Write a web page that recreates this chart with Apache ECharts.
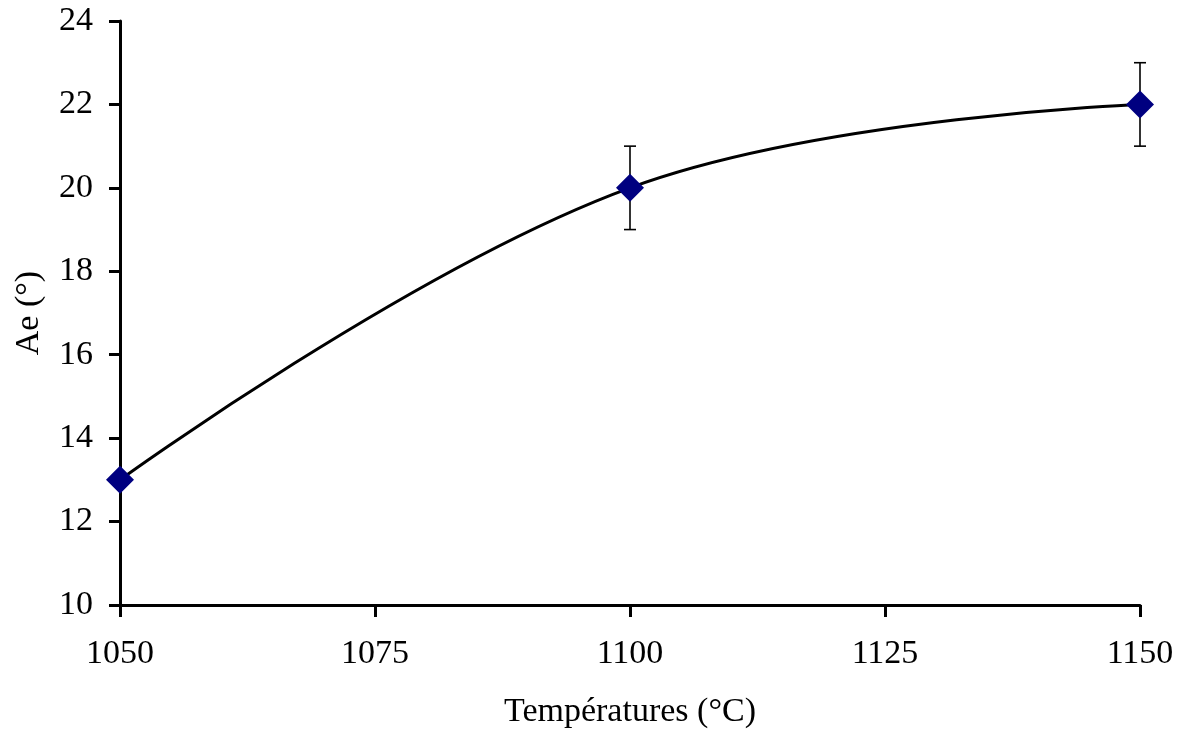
<!DOCTYPE html>
<html>
<head>
<meta charset="utf-8">
<script src="https://cdn.jsdelivr.net/npm/echarts@6/dist/echarts.min.js"></script>
<style>
  html, body { margin: 0; padding: 0; background: #fff; }
  #chart { width: 1182px; height: 731px; }
</style>
</head>
<body>
<div id="chart"></div>
<script>
// données
var temperatures = [1050, 1100, 1150];
var aeValues = [13, 20, 22];
// barres d'erreur (bas, haut) ; pas de barre visible à 1050
var errLow = [null, 19, 21];
var errHigh = [null, 21, 23];
var xTicks = [1050, 1075, 1100, 1125, 1150];
var yTicks = [10, 12, 14, 16, 18, 20, 22, 24];

var points = temperatures.map(function (t, i) { return [t, aeValues[i]]; });
var errData = [];
temperatures.forEach(function (t, i) {
  if (errLow[i] != null) errData.push([t, errLow[i], errHigh[i]]);
});

var myChart = echarts.init(document.getElementById('chart'));

var font = '"Liberation Serif", "Times New Roman", serif';

var option = {
  animation: false,
  grid: { left: 120, right: 42, top: 21, bottom: 126, outerBoundsMode: 'none' },
  xAxis: {
    type: 'value',
    min: xTicks[0],
    max: xTicks[xTicks.length - 1],
    interval: 25,
    name: 'Températures (°C)',
    nameLocation: 'middle',
    nameGap: 90,
    nameTextStyle: { fontFamily: font, fontSize: 34, color: '#000' },
    axisLine: { lineStyle: { color: '#000', width: 3 } },
    axisTick: { show: true, length: 12, lineStyle: { color: '#000', width: 3 } },
    axisLabel: {
      fontFamily: font, fontSize: 34, color: '#000', margin: 32,
      formatter: function (v) { return String(v); }
    },
    splitLine: { show: false }
  },
  yAxis: {
    type: 'value',
    min: yTicks[0],
    max: yTicks[yTicks.length - 1],
    interval: 2,
    name: 'Ae (°)',
    nameLocation: 'middle',
    nameGap: 74,
    nameTextStyle: { fontFamily: font, fontSize: 34, color: '#000' },
    axisLine: { show: true, lineStyle: { color: '#000', width: 3 } },
    axisTick: { show: true, length: 11, lineStyle: { color: '#000', width: 3 } },
    axisLabel: {
      fontFamily: font, fontSize: 34, color: '#000', margin: 27,
      formatter: function (v) { return String(v); }
    },
    splitLine: { show: false }
  },
  series: [
    {
      // barres d'erreur
      type: 'custom',
      z: 1,
      data: errData,
      renderItem: function (params, api) {
        var low = api.coord([api.value(0), api.value(1)]);
        var high = api.coord([api.value(0), api.value(2)]);
        var cap = 6;
        var style = { stroke: '#000', lineWidth: 1.6 };
        return {
          type: 'group',
          children: [
            { type: 'line', shape: { x1: low[0], y1: low[1], x2: high[0], y2: high[1] }, style: style },
            { type: 'line', shape: { x1: low[0] - cap, y1: low[1], x2: low[0] + cap, y2: low[1] }, style: style },
            { type: 'line', shape: { x1: high[0] - cap, y1: high[1], x2: high[0] + cap, y2: high[1] }, style: style }
          ]
        };
      }
    },
    {
      name: 'Ae',
      type: 'line',
      z: 3,
      smooth: 0.4,
      data: points,
      symbol: 'diamond',
      symbolSize: [28, 28],
      itemStyle: { color: '#000080' },
      lineStyle: { color: '#000', width: 3 }
    }
  ]
};

myChart.setOption(option);
</script>
</body>
</html>
